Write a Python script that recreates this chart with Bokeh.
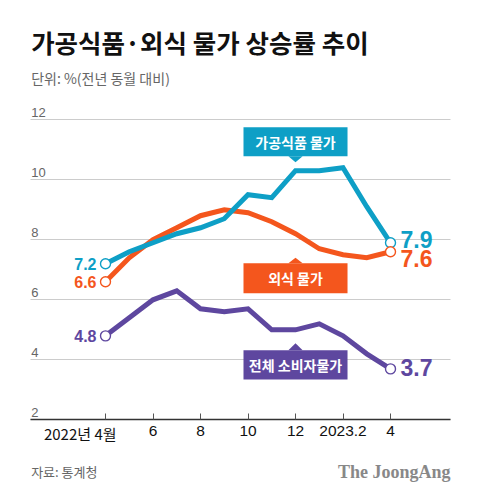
from bokeh.embed import file_html
from bokeh.resources import INLINE
from bokeh.plotting import figure
from bokeh.models import Label, Range1d, FixedTicker, LinearAxis, Grid
from bokeh.core.properties import value

KR = "Noto Sans CJK KR"
NUM = "Liberation Sans"

months = list(range(13))
food = [7.2, 7.6, 7.9, 8.2, 8.4, 8.7, 9.5, 9.4, 10.3, 10.3, 10.4, 9.1, 7.9]
dining = [6.6, 7.4, 8.0, 8.4, 8.8, 9.0, 8.9, 8.6, 8.2, 7.7, 7.5, 7.4, 7.6]
cpi = [4.8, 5.4, 6.0, 6.3, 5.7, 5.6, 5.7, 5.0, 5.0, 5.2, 4.8, 4.2, 3.7]
x_ticks = [0, 2, 4, 6, 8, 10, 12]
x_labels = ["", "6", "8", "10", "12", "2023.2", "4"]
y_ticks = [2, 4, 6, 8, 10, 12]

TEAL, ORANGE, PURPLE = "#0E9FC6", "#F4561D", "#5E479F"
AX_L, AX_R = -3.158, 14.526

p = figure(width=480, height=500, output_backend="svg", toolbar_location=None,
           x_range=Range1d(-4.421, 15.789), y_range=Range1d(-0.683, 15.967),
           x_axis_type=None, y_axis_type=None,
           min_border_left=0, min_border_right=0, min_border_top=0, min_border_bottom=0,
           outline_line_color=None, background_fill_color="white", border_fill_color="white")

p.add_layout(Grid(dimension=1, ticker=FixedTicker(ticks=y_ticks), cross_bounds=(AX_L, AX_R),
                  grid_line_color="#cccccc", grid_line_width=1))

ax = LinearAxis(fixed_location=2, ticker=FixedTicker(ticks=x_ticks), bounds=(AX_L, AX_R),
                major_label_overrides={t: l for t, l in zip(x_ticks, x_labels)},
                major_tick_in=6, major_tick_out=0, minor_tick_line_color=None,
                axis_line_color="#333333", axis_line_width=1.5, major_tick_line_color="#555555",
                major_label_text_font=NUM, major_label_text_font_size="15.5px",
                major_label_text_color="#111111", major_label_standoff=6)
p.add_layout(ax, "below")

# lines
for vals, col in [(dining, ORANGE), (food, TEAL), (cpi, PURPLE)]:
    p.line(months, vals, line_color=col, line_width=5, line_join="miter")
for vals, col in [(food, TEAL), (dining, ORANGE), (cpi, PURPLE)]:
    p.scatter([months[0], months[-1]], [vals[0], vals[-1]], size=10, marker="circle",
              fill_color="white", line_color=col, line_width=1.4)

# callouts
boxes = [("가공식품 물가", TEAL, 11.75, 10.78, 10.78, 10.58),
         ("외식 물가", ORANGE, 7.22, 6.22, 7.22, 7.40),
         ("전체 소비자물가", PURPLE, 4.32, 3.35, 4.32, 4.55)]
BOX_L, BOX_R, TIP = 5.81, 10.19, 8.0
for txt, col, top, bottom, base, tip in boxes:
    p.quad(left=BOX_L, right=BOX_R, top=top, bottom=bottom, fill_color=col, line_color=None)
    p.patch([TIP - 0.3, TIP + 0.3, TIP], [base, base, tip], fill_color=col, line_color=None)
    p.text([TIP], [(top + bottom) / 2], text=[txt], text_align="center", text_baseline="middle",
           text_color="white", text_font=value(KR), text_font_style="bold", text_font_size="14px")

# value labels
for v, col in [(food[0], TEAL), (dining[0], ORANGE), (cpi[0], PURPLE)]:
    p.text([months[0]], [v], text=[f"{v}"], x_offset=-9, text_align="right",
           text_baseline="middle", text_color=col, text_font=value(NUM), text_font_style="bold",
           text_font_size="16px")
for v, col, dy in [(food[-1], TEAL, -3), (dining[-1], ORANGE, 7), (cpi[-1], PURPLE, -1)]:
    p.text([months[-1]], [v], text=[f"{v}"], x_offset=10, y_offset=dy, text_align="left",
           text_baseline="middle", text_color=col, text_font=value(NUM), text_font_style="bold",
           text_font_size="23px")

# y tick labels (sit above their gridlines)
for t in y_ticks:
    p.add_layout(Label(x=-3.13, y=t, text=str(t), text_font=NUM, text_font_size="13px",
                       text_color="#666666", text_baseline="bottom", y_offset=3))

# first x tick label, shifted left of its tick
p.add_layout(Label(x=0, y=2, text="2022년 4월", text_font=KR, text_font_size="15px",
                   text_color="#111111", text_align="right", text_baseline="middle",
                   x_offset=11, y_offset=-14))

# title block and footer
p.add_layout(Label(x=-3.13, y=14.6, text="가공식품·외식 물가 상승률 추이", text_font=KR,
                   text_font_size="25.5px", text_font_style="bold", text_color="#111111",
                   text_baseline="middle"))
p.add_layout(Label(x=-3.13, y=13.37, text="단위: %(전년 동월 대비)", text_font=KR,
                   text_font_size="14px", text_color="#666666", text_baseline="middle"))
p.add_layout(Label(x=-3.13, y=0.27, text="자료: 통계청", text_font=KR,
                   text_font_size="13px", text_color="#666666", text_baseline="middle"))
p.add_layout(Label(x=14.526, y=0.27, text="The JoongAng", text_font="Liberation Serif",
                   text_font_size="18px", text_font_style="bold", text_color="#888888",
                   text_align="right", text_baseline="middle"))

open("out.html", "w").write(file_html(p, INLINE))
